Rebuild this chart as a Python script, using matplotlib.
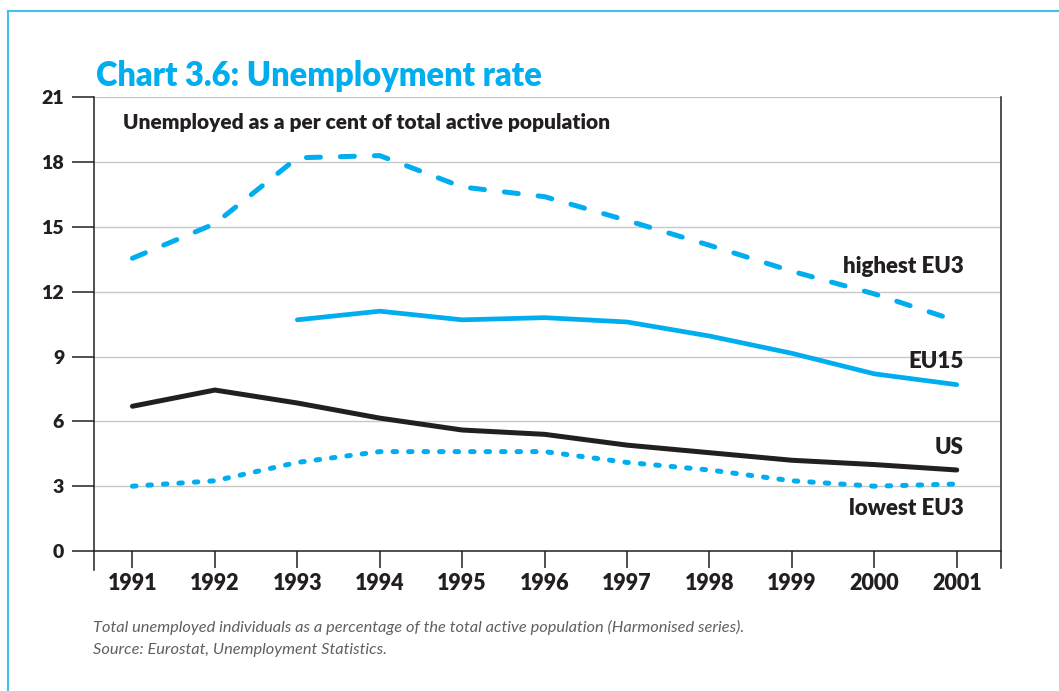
import matplotlib
matplotlib.use("Agg")
import matplotlib.pyplot as plt

# unemployment rate, % of total active population
years = [1991, 1992, 1993, 1994, 1995, 1996, 1997, 1998, 1999, 2000, 2001]
highest_eu3 = [13.55, 15.15, 18.2, 18.3, 16.85, 16.4, 15.3, 14.15, 12.95, 11.9, 10.65]
eu15_years = [1993, 1994, 1995, 1996, 1997, 1998, 1999, 2000, 2001]
eu15 = [10.7, 11.1, 10.7, 10.8, 10.6, 9.95, 9.15, 8.2, 7.7]
us = [6.7, 7.45, 6.85, 6.15, 5.6, 5.4, 4.9, 4.55, 4.2, 4.0, 3.75]
lowest_eu3 = [3.0, 3.25, 4.1, 4.6, 4.6, 4.6, 4.1, 3.75, 3.25, 3.0, 3.1]
y_ticks = [0, 3, 6, 9, 12, 15, 18, 21]

BLUE = "#00aeef"
INK = "#231f20"
FONT = ["Lato", "DejaVu Sans"]

fig = plt.figure(figsize=(10.59, 6.91), dpi=100)
ax = fig.add_axes([0.0885, 0.2026, 0.8565, 0.6566])
ax.set_xlim(1990.53, 2001.534)
ax.set_ylim(0, 21)

for s in ax.spines.values():
    s.set_visible(False)
# axis frame: left, right and bottom, the verticals run a little below zero
ax.plot([0, 0], [-0.042, 1], transform=ax.transAxes, color=INK, lw=1.1, clip_on=False, zorder=5)
ax.plot([1, 1], [-0.038, 1], transform=ax.transAxes, color=INK, lw=1.1, clip_on=False, zorder=5)
ax.plot([0, 1], [0, 0], transform=ax.transAxes, color=INK, lw=1.1, clip_on=False, zorder=5)

ax.set_yticks(y_ticks)
ax.set_xticks(years)
ax.set_xticklabels([str(y) for y in years])
ax.tick_params(axis="y", length=15.8, width=1.1, direction="out", pad=5.5, color=INK,
               labelcolor=INK)
ax.tick_params(axis="x", length=12.2, width=1.1, direction="out", pad=3.5, color=INK,
               labelcolor=INK)
for lab in ax.get_yticklabels():
    lab.set_family(FONT)
    lab.set_fontweight("heavy")
    lab.set_fontsize(14)
for lab in ax.get_xticklabels():
    lab.set_family(FONT)
    lab.set_fontweight("heavy")
    lab.set_fontsize(15.5)

ax.grid(axis="y", color="#c8c8c8", lw=1.0)
ax.set_axisbelow(True)

ax.plot(years, highest_eu3, color=BLUE, lw=3.6, linestyle=(0, (2.8, 4.0)),
        dash_capstyle="round", dash_joinstyle="round", zorder=3)
ax.plot(eu15_years, eu15, color=BLUE, lw=3.4, solid_capstyle="round",
        solid_joinstyle="round", zorder=3)
ax.plot(years, us, color=INK, lw=3.6, solid_capstyle="round", solid_joinstyle="round", zorder=3)
ax.plot(years, lowest_eu3, color=BLUE, lw=3.6, linestyle=(0, (0.7, 2.4)),
        dash_capstyle="round", zorder=3)

lab_kw = dict(ha="right", va="baseline", fontsize=16, fontweight="heavy", color=INK, family=FONT)
ax.text(2001.08, 12.85, "highest EU3", **lab_kw)
ax.text(2001.08, 8.45, "EU15", **lab_kw)
ax.text(2001.08, 4.49, "US", **lab_kw)
ax.text(2001.08, 1.67, "lowest EU3", **lab_kw)

fig.text(0.0904, 0.8755, "Chart 3.6: Unemployment rate", fontsize=23.5, fontweight="heavy",
         color=BLUE, family=FONT, va="baseline")
fig.text(0.1162, 0.822, "Unemployed as a per cent of total active population", fontsize=15,
         fontweight="heavy", color=INK, family=FONT, va="center")

foot_kw = dict(fontsize=11.8, style="italic", fontweight="normal", color="#5f6062",
               family=FONT, va="baseline")
fig.text(0.0878, 0.0854, "Total unemployed individuals as a percentage of the total active "
         "population (Harmonised series).", **foot_kw)
fig.text(0.0878, 0.0536, "Source: Eurostat, Unemployment Statistics.", **foot_kw)

# light blue page border, top and left edges
fig.add_artist(plt.Line2D([0.0072, 1.0], [0.9834, 0.9834], color="#45c0ee", lw=1.5))
fig.add_artist(plt.Line2D([0.0072, 0.0072], [0.0, 0.9834], color="#45c0ee", lw=1.5))

fig.savefig("out.png", dpi=100)
